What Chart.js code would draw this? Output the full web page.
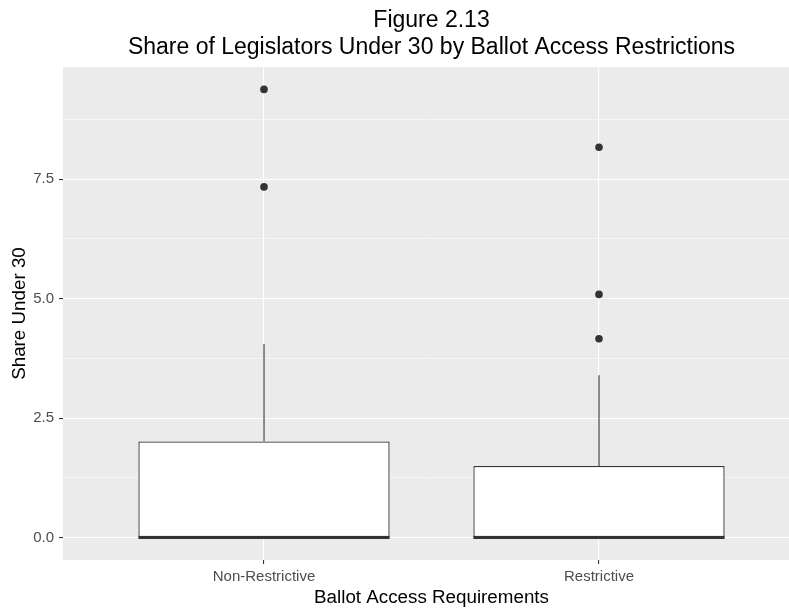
<!DOCTYPE html>
<html>
<head>
<meta charset="utf-8">
<script src="https://cdn.jsdelivr.net/npm/chart.js@4/dist/chart.umd.min.js"></script>
<style>
  html, body { margin: 0; padding: 0; background: #ffffff; overflow: hidden; }
  #wrap { width: 810px; height: 609px; }
</style>
</head>
<body>
<div id="wrap"><canvas id="c" width="810" height="609"></canvas></div>
<script>
// Boxplot summary per ballot-access group
const categories   = ['Non-Restrictive', 'Restrictive'];
const lowerWhisker = [0, 0];
const q1           = [0, 0];
const median       = [0, 0];
const q3           = [2.01, 1.50];
const upperWhisker = [4.05, 3.40];
const outliers     = [[9.38, 7.34], [8.17, 5.09, 4.16]];

// Axis ticks
const yMajorTicks = [0, 2.5, 5, 7.5];
const yMinorTicks = [1.25, 3.75, 6.25, 8.75];

const titleLines = ['Figure 2.13', 'Share of Legislators Under 30 by Ballot Access Restrictions'];
const xTitle = 'Ballot Access Requirements';
const yTitle = 'Share Under 30';

const FONT = '"Liberation Sans", Arial, sans-serif';
const INK = '#333333';

// category positions on a continuous x axis (1, 2, ...)
const xPos = categories.map((_, i) => i + 1);

// 5% expansion of the data range, like ggplot's default
const allVals = [].concat(lowerWhisker, upperWhisker, ...outliers);
const dMin = Math.min(...allVals), dMax = Math.max(...allVals);
const yMin = dMin - 0.05 * (dMax - dMin);
const yMax = dMax + 0.05 * (dMax - dMin);
const xMin = 1 - 0.6, xMax = categories.length + 0.6;

const boxData = xPos.map((x, i) => ({ x: x, y: [q1[i], q3[i]] }));
const outlierData = [];
outliers.forEach((vals, i) => vals.forEach(v => outlierData.push({ x: xPos[i], y: v })));

const panelBg = {
  id: 'panelBg',
  beforeDraw(chart) {
    const { ctx, chartArea: a } = chart;
    ctx.save();
    ctx.fillStyle = '#EBEBEB';
    ctx.fillRect(a.left, a.top, a.right - a.left, a.bottom - a.top);
    ctx.restore();
  }
};

const boxParts = {
  id: 'boxParts',
  beforeDatasetsDraw(chart) {
    const { ctx } = chart;
    const xs = chart.scales.x, ys = chart.scales.y;
    ctx.save();
    ctx.strokeStyle = INK;
    ctx.lineWidth = 1.1;
    xPos.forEach((x, i) => {
      const px = xs.getPixelForValue(x);
      ctx.beginPath();
      ctx.moveTo(px, ys.getPixelForValue(q3[i]));
      ctx.lineTo(px, ys.getPixelForValue(upperWhisker[i]));
      ctx.moveTo(px, ys.getPixelForValue(q1[i]));
      ctx.lineTo(px, ys.getPixelForValue(lowerWhisker[i]));
      ctx.stroke();
    });
    ctx.restore();
  },
  afterDatasetDraw(chart, args) {
    if (args.index !== 0) return;
    const { ctx } = chart;
    const ys = chart.scales.y;
    const meta = chart.getDatasetMeta(0);
    ctx.save();
    ctx.strokeStyle = INK;
    ctx.lineWidth = 2.8;
    meta.data.forEach((bar, i) => {
      const { x, width } = bar.getProps(['x', 'width'], true);
      const py = ys.getPixelForValue(median[i]);
      ctx.beginPath();
      ctx.moveTo(x - width / 2, py);
      ctx.lineTo(x + width / 2, py);
      ctx.stroke();
    });
    ctx.restore();
  }
};

const plotTitle = {
  id: 'plotTitle',
  afterDraw(chart) {
    const { ctx, chartArea: a } = chart;
    const cx = (a.left + a.right) / 2;
    ctx.save();
    ctx.fillStyle = '#000000';
    ctx.font = '23px ' + FONT;
    ctx.textAlign = 'center';
    ctx.textBaseline = 'alphabetic';
    ctx.fillText(titleLines[0], cx, 27);
    ctx.fillText(titleLines[1], cx, 54);
    ctx.restore();
  }
};

new Chart(document.getElementById('c'), {
  type: 'bar',
  data: {
    datasets: [
      {
        type: 'bar',
        data: boxData,
        backgroundColor: '#FFFFFF',
        borderColor: INK,
        borderWidth: 1.3,
        borderSkipped: false,
        barPercentage: 0.75,
        categoryPercentage: 1.0
      },
      {
        type: 'scatter',
        data: outlierData,
        pointRadius: 3.8,
        pointBackgroundColor: INK,
        pointBorderWidth: 0,
        pointBorderColor: INK
      }
    ]
  },
  options: {
    responsive: false,
    devicePixelRatio: 1,
    animation: false,
    layout: { padding: { top: 67, right: 10, left: 0, bottom: 0 } },
    plugins: { legend: { display: false }, tooltip: { enabled: false }, title: { display: false } },
    scales: {
      x: {
        type: 'linear',
        min: xMin,
        max: xMax,
        offset: false,
        afterBuildTicks: s => { s.ticks = xPos.map(v => ({ value: v })); },
        afterFit: s => { s.height = 49; },
        border: { display: false },
        grid: { offset: false, color: '#FFFFFF', lineWidth: 1.1, tickColor: INK, tickWidth: 1.1, tickLength: 4 },
        ticks: {
          callback: v => categories[v - 1],
          color: '#4D4D4D',
          font: { family: FONT, size: 15 },
          padding: 4,
          maxRotation: 0,
          autoSkip: false
        },
        title: {
          display: true,
          text: xTitle,
          color: '#000000',
          font: { family: FONT, size: 18.8 },
          padding: { top: 0, bottom: 0 }
        }
      },
      y: {
        type: 'linear',
        min: yMin,
        max: yMax,
        afterBuildTicks: s => {
          s.ticks = yMajorTicks.concat(yMinorTicks).sort((a, b) => a - b).map(v => ({ value: v }));
        },
        afterFit: s => { s.width = 63; },
        border: { display: false },
        grid: {
          color: '#FFFFFF',
          lineWidth: c => (yMajorTicks.includes(c.tick.value) ? 1.1 : 0.55),
          tickColor: c => (yMajorTicks.includes(c.tick.value) ? INK : 'rgba(0,0,0,0)'),
          tickWidth: 1.1,
          tickLength: 4
        },
        ticks: {
          callback: v => (yMajorTicks.includes(v) ? v.toFixed(1) : ''),
          color: '#4D4D4D',
          font: { family: FONT, size: 15 },
          padding: 5
        },
        title: {
          display: true,
          text: yTitle,
          color: '#000000',
          font: { family: FONT, size: 18.8 },
          padding: { top: 9, bottom: 0 }
        }
      }
    }
  },
  plugins: [panelBg, boxParts, plotTitle]
});
</script>
</body>
</html>
